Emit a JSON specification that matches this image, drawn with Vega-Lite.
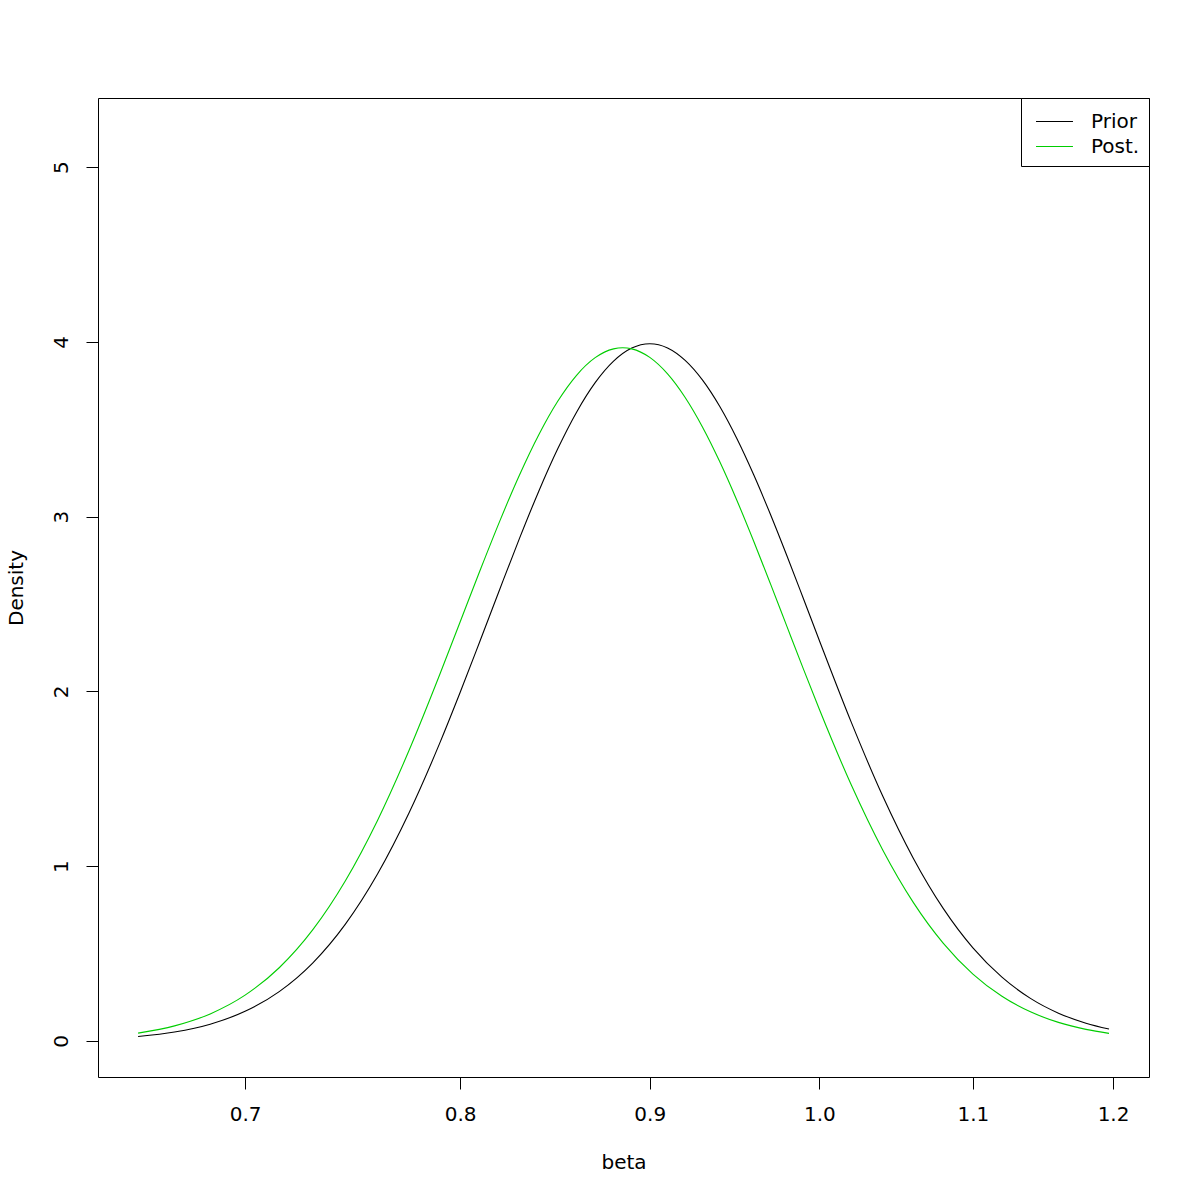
{
  "$schema": "https://vega.github.io/schema/vega-lite/v6.json",
  "width": 1051,
  "height": 979,
  "autosize": {"type": "none"},
  "padding": {"left": 98, "top": 98, "right": 51, "bottom": 123},
  "background": "white",
  "config": {
    "view": {"stroke": "black", "strokeWidth": 1},
    "font": "DejaVu Sans",
    "axis": {
      "domain": false,
      "grid": false,
      "ticks": true,
      "tickColor": "black",
      "tickSize": 12,
      "tickWidth": 1,
      "labelFont": "DejaVu Sans",
      "labelFontSize": 20,
      "labelColor": "black",
      "titleFont": "DejaVu Sans",
      "titleFontSize": 20,
      "titleFontWeight": "normal",
      "titleColor": "black"
    },
    "legend": {
      "orient": "top-right",
      "offset": 0,
      "strokeColor": "black",
      "fillColor": "white",
      "padding": 9,
      "cornerRadius": 0,
      "symbolType": "M-1.32,0H1.32",
      "symbolSize": 784,
      "symbolStrokeWidth": 1,
      "labelFont": "DejaVu Sans",
      "labelFontSize": 20,
      "labelColor": "black",
      "labelOffset": 22,
      "rowPadding": 0,
      "titleOrient": "left",
      "titleFontSize": 1,
      "titlePadding": 10
    }
  },
  "data": {
    "values": [
      {"beta": 0.655, "density": 0.0256, "series": "Prior"},
      {"beta": 0.67, "density": 0.0512, "series": "Prior"},
      {"beta": 0.685, "density": 0.0961, "series": "Prior"},
      {"beta": 0.70, "density": 0.1697, "series": "Prior"},
      {"beta": 0.715, "density": 0.2825, "series": "Prior"},
      {"beta": 0.73, "density": 0.4459, "series": "Prior"},
      {"beta": 0.745, "density": 0.6686, "series": "Prior"},
      {"beta": 0.76, "density": 0.9552, "series": "Prior"},
      {"beta": 0.775, "density": 1.3042, "series": "Prior"},
      {"beta": 0.79, "density": 1.7054, "series": "Prior"},
      {"beta": 0.80, "density": 1.9935, "series": "Prior"},
      {"beta": 0.81, "density": 2.2900, "series": "Prior"},
      {"beta": 0.82, "density": 2.5863, "series": "Prior"},
      {"beta": 0.83, "density": 2.8741, "series": "Prior"},
      {"beta": 0.84, "density": 3.1440, "series": "Prior"},
      {"beta": 0.85, "density": 3.3877, "series": "Prior"},
      {"beta": 0.86, "density": 3.5975, "series": "Prior"},
      {"beta": 0.87, "density": 3.7663, "series": "Prior"},
      {"beta": 0.88, "density": 3.8895, "series": "Prior"},
      {"beta": 0.89, "density": 3.9642, "series": "Prior"},
      {"beta": 0.90, "density": 3.9894, "series": "Prior"},
      {"beta": 0.91, "density": 3.9651, "series": "Prior"},
      {"beta": 0.92, "density": 3.8938, "series": "Prior"},
      {"beta": 0.93, "density": 3.7806, "series": "Prior"},
      {"beta": 0.94, "density": 3.6296, "series": "Prior"},
      {"beta": 0.95, "density": 3.4468, "series": "Prior"},
      {"beta": 0.96, "density": 3.2393, "series": "Prior"},
      {"beta": 0.97, "density": 3.0136, "series": "Prior"},
      {"beta": 0.98, "density": 2.7761, "series": "Prior"},
      {"beta": 0.99, "density": 2.5331, "series": "Prior"},
      {"beta": 1.00, "density": 2.2902, "series": "Prior"},
      {"beta": 1.02, "density": 1.8228, "series": "Prior"},
      {"beta": 1.04, "density": 1.4028, "series": "Prior"},
      {"beta": 1.06, "density": 1.0459, "series": "Prior"},
      {"beta": 1.08, "density": 0.7570, "series": "Prior"},
      {"beta": 1.10, "density": 0.5327, "series": "Prior"},
      {"beta": 1.12, "density": 0.3651, "series": "Prior"},
      {"beta": 1.14, "density": 0.2440, "series": "Prior"},
      {"beta": 1.16, "density": 0.1594, "series": "Prior"},
      {"beta": 1.18, "density": 0.1018, "series": "Prior"},
      {"beta": 1.197, "density": 0.0684, "series": "Prior"},
      {"beta": 0.655, "density": 0.0452, "series": "Post."},
      {"beta": 0.67, "density": 0.0864, "series": "Post."},
      {"beta": 0.685, "density": 0.1551, "series": "Post."},
      {"beta": 0.70, "density": 0.2622, "series": "Post."},
      {"beta": 0.715, "density": 0.4191, "series": "Post."},
      {"beta": 0.73, "density": 0.6355, "series": "Post."},
      {"beta": 0.745, "density": 0.9169, "series": "Post."},
      {"beta": 0.76, "density": 1.2619, "series": "Post."},
      {"beta": 0.775, "density": 1.6616, "series": "Post."},
      {"beta": 0.79, "density": 2.0981, "series": "Post."},
      {"beta": 0.80, "density": 2.3974, "series": "Post."},
      {"beta": 0.81, "density": 2.6928, "series": "Post."},
      {"beta": 0.82, "density": 2.9757, "series": "Post."},
      {"beta": 0.83, "density": 3.2367, "series": "Post."},
      {"beta": 0.84, "density": 3.4672, "series": "Post."},
      {"beta": 0.85, "density": 3.6599, "series": "Post."},
      {"beta": 0.86, "density": 3.8087, "series": "Post."},
      {"beta": 0.87, "density": 3.9094, "series": "Post."},
      {"beta": 0.88, "density": 3.9598, "series": "Post."},
      {"beta": 0.885, "density": 3.9660, "series": "Post."},
      {"beta": 0.89, "density": 3.9597, "series": "Post."},
      {"beta": 0.90, "density": 3.9108, "series": "Post."},
      {"beta": 0.91, "density": 3.8165, "series": "Post."},
      {"beta": 0.92, "density": 3.6814, "series": "Post."},
      {"beta": 0.93, "density": 3.5115, "series": "Post."},
      {"beta": 0.94, "density": 3.3134, "series": "Post."},
      {"beta": 0.95, "density": 3.0936, "series": "Post."},
      {"beta": 0.96, "density": 2.8592, "series": "Post."},
      {"beta": 0.97, "density": 2.6168, "series": "Post."},
      {"beta": 0.98, "density": 2.3718, "series": "Post."},
      {"beta": 0.99, "density": 2.1303, "series": "Post."},
      {"beta": 1.00, "density": 1.8964, "series": "Post."},
      {"beta": 1.02, "density": 1.4644, "series": "Post."},
      {"beta": 1.04, "density": 1.0946, "series": "Post."},
      {"beta": 1.06, "density": 0.7933, "series": "Post."},
      {"beta": 1.08, "density": 0.5587, "series": "Post."},
      {"beta": 1.10, "density": 0.3830, "series": "Post."},
      {"beta": 1.12, "density": 0.2558, "series": "Post."},
      {"beta": 1.14, "density": 0.1668, "series": "Post."},
      {"beta": 1.16, "density": 0.1064, "series": "Post."},
      {"beta": 1.18, "density": 0.0664, "series": "Post."},
      {"beta": 1.197, "density": 0.0437, "series": "Post."}
    ]
  },
  "mark": {"type": "line", "interpolate": "monotone", "strokeWidth": 1.1, "clip": true},
  "encoding": {
    "x": {
      "field": "beta",
      "type": "quantitative",
      "scale": {"type": "log", "domain": [0.6389, 1.2271], "nice": false, "zero": false},
      "axis": {
        "title": "beta",
        "values": [0.7, 0.8, 0.9, 1.0, 1.1, 1.2],
        "format": ".1f",
        "labelPadding": 15,
        "titlePadding": 28
      }
    },
    "y": {
      "field": "density",
      "type": "quantitative",
      "scale": {"domain": [-0.206, 5.395], "nice": false, "zero": false},
      "axis": {
        "title": "Density",
        "values": [0, 1, 2, 3, 4, 5],
        "format": "d",
        "labelAngle": -90,
        "labelAlign": "center",
        "labelBaseline": "bottom",
        "labelPadding": 15,
        "titlePadding": 25
      }
    },
    "color": {
      "field": "series",
      "type": "nominal",
      "sort": ["Prior", "Post."],
      "scale": {"domain": ["Prior", "Post."], "range": ["black", "#00CD00"]},
      "legend": {"title": " "}
    }
  }
}
